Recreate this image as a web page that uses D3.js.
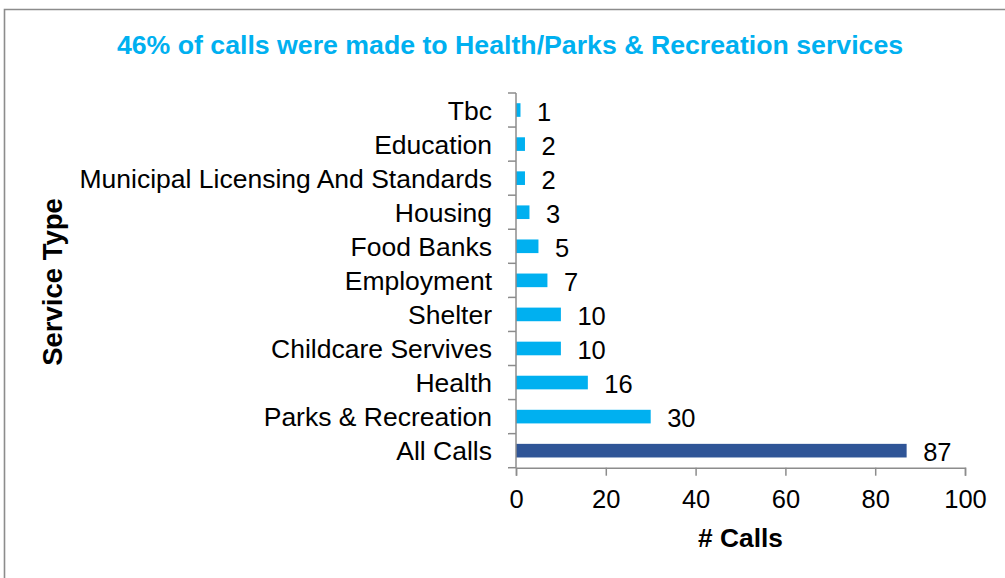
<!DOCTYPE html>
<html>
<head>
<meta charset="utf-8">
<script src="https://cdn.jsdelivr.net/npm/d3@7"></script>
<style>
  html, body { margin: 0; padding: 0; background: #fff; }
  svg { display: block; font-family: "Liberation Sans", Arial, sans-serif; }
</style>
</head>
<body>
<svg id="chart" width="1005" height="578"></svg>
<script>
// Calls per service type, listed top to bottom
const categories = [
  "Tbc", "Education", "Municipal Licensing And Standards", "Housing",
  "Food Banks", "Employment", "Shelter", "Childcare Servives",
  "Health", "Parks & Recreation", "All Calls"
];
const calls = [1, 2, 2, 3, 5, 7, 10, 10, 16, 30, 87];
const xTicks = [0, 20, 40, 60, 80, 100];
const totalLabel = "All Calls";

const titleText = "46% of calls were made to Health/Parks & Recreation services";
const xTitle = "# Calls";
const yTitle = "Service Type";

const svg = d3.select("#chart");
const W = 1005, H = 578;
const plot = { left: 516, right: 965, top: 93, bottom: 467.7 };

// Chart frame (left and top edges)
svg.append("rect").attr("width", W).attr("height", H).attr("fill", "#fff");
svg.append("path")
  .attr("d", `M4.5,${H} L4.5,9.5 L${W},9.5`)
  .attr("fill", "none")
  .attr("stroke", "#8c8c8c")
  .attr("stroke-width", 1.6);

const x = d3.scaleLinear().domain([0, 100]).range([plot.left, plot.right]);
const y = d3.scaleBand().domain(categories).range([plot.top, plot.bottom])
  .paddingInner(0.6).paddingOuter(0.3);

// Title
svg.append("text")
  .attr("x", 510).attr("y", 54)
  .attr("text-anchor", "middle")
  .attr("font-size", 26.7).attr("font-weight", "bold")
  .attr("fill", "#00b0f0")
  .text(titleText);

// Bars
svg.append("g").selectAll("rect")
  .data(categories)
  .join("rect")
  .attr("x", x(0))
  .attr("y", d => y(d))
  .attr("width", (d, i) => x(calls[i]) - x(0))
  .attr("height", y.bandwidth())
  .attr("fill", d => d === totalLabel ? "#2f5597" : "#00b0f0");

// Value labels
svg.append("g").selectAll("text")
  .data(categories)
  .join("text")
  .attr("x", (d, i) => x(calls[i]) + 16.5)
  .attr("y", d => y(d) + y.bandwidth() / 2 + 10.5)
  .attr("font-size", 25.5)
  .attr("fill", "#000")
  .text((d, i) => calls[i]);

const axisColor = "#8c8c8c";

// X axis
const xAxis = svg.append("g")
  .attr("transform", `translate(0,${plot.bottom})`)
  .call(d3.axisBottom(x).tickValues(xTicks).tickSize(8).tickPadding(14).tickFormat(d3.format("d")));
xAxis.select(".domain").attr("stroke", axisColor).attr("stroke-width", 1.5);
xAxis.selectAll(".tick line").attr("stroke", axisColor).attr("stroke-width", 1.5);
xAxis.selectAll(".tick text")
  .attr("font-size", 25.5).attr("font-family", "Liberation Sans, Arial, sans-serif")
  .attr("fill", "#000");

// Y axis: line with ticks at category boundaries
const step = y.step();
const boundaries = d3.range(categories.length + 1).map(i => plot.top + i * step);
const yAxisG = svg.append("g");
yAxisG.append("line")
  .attr("x1", plot.left).attr("x2", plot.left)
  .attr("y1", plot.top).attr("y2", plot.bottom)
  .attr("stroke", axisColor).attr("stroke-width", 1.5);
yAxisG.selectAll("line.tick")
  .data(boundaries)
  .join("line")
  .attr("class", "tick")
  .attr("x1", plot.left - 8).attr("x2", plot.left)
  .attr("y1", d => d).attr("y2", d => d)
  .attr("stroke", axisColor).attr("stroke-width", 1.5);

// Category labels
svg.append("g").selectAll("text")
  .data(categories)
  .join("text")
  .attr("x", 492)
  .attr("y", d => y(d) + y.bandwidth() / 2 + 9.5)
  .attr("text-anchor", "end")
  .attr("font-size", 26.5)
  .attr("fill", "#000")
  .text(d => d);

// Axis titles
svg.append("text")
  .attr("x", (plot.left + plot.right) / 2).attr("y", 546.5)
  .attr("text-anchor", "middle")
  .attr("font-size", 26.3).attr("font-weight", "bold")
  .text(xTitle);

svg.append("text")
  .attr("transform", "translate(62,282) rotate(-90)")
  .attr("text-anchor", "middle")
  .attr("font-size", 27.5).attr("font-weight", "bold")
  .text(yTitle);
</script>
</body>
</html>
